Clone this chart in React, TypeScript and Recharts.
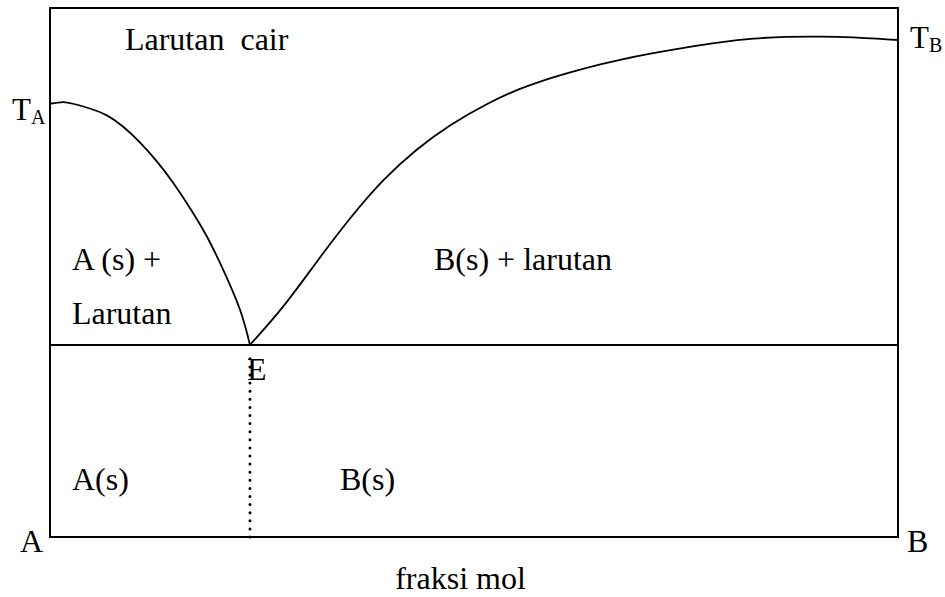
import React from 'react';
import { ComposedChart, Line, XAxis, YAxis, ReferenceLine, ReferenceArea, ReferenceDot } from 'recharts';

// Liquidus of A (mol fraction of B vs temperature, arbitrary 0-100 scale)
const liquidusA = [
  { x: 0.0, t: 81.9 },
  { x: 0.0153, t: 82.2 },
  { x: 0.027, t: 81.9 },
  { x: 0.047, t: 81.0 },
  { x: 0.067, t: 79.7 },
  { x: 0.086, t: 77.6 },
  { x: 0.106, t: 74.6 },
  { x: 0.126, t: 71.0 },
  { x: 0.145, t: 67.0 },
  { x: 0.165, t: 62.2 },
  { x: 0.185, t: 56.8 },
  { x: 0.204, t: 50.6 },
  { x: 0.224, t: 43.0 },
  { x: 0.2358, t: 36.3 },
];

// Liquidus of B
const liquidusB = [
  { x: 0.2358, t: 36.3 },
  { x: 0.2751, t: 43.6 },
  { x: 0.3145, t: 52.0 },
  { x: 0.3538, t: 60.2 },
  { x: 0.393, t: 67.4 },
  { x: 0.4324, t: 73.2 },
  { x: 0.4717, t: 77.8 },
  { x: 0.515, t: 81.8 },
  { x: 0.5542, t: 84.7 },
  { x: 0.5935, t: 86.9 },
  { x: 0.6329, t: 88.7 },
  { x: 0.6722, t: 90.2 },
  { x: 0.7114, t: 91.45 },
  { x: 0.7508, t: 92.55 },
  { x: 0.7901, t: 93.5 },
  { x: 0.8294, t: 94.2 },
  { x: 0.8687, t: 94.55 },
  { x: 0.908, t: 94.6 },
  { x: 0.9473, t: 94.45 },
  { x: 1.0, t: 93.95 },
];

const eutecticX = 0.2358;
const eutecticT = 36.3;

const regionLabels = [
  { text: 'Larutan  cair', x: 0.0884, t: 92.06, anchor: 'start' },
  { text: 'A (s) +', x: 0.0259, t: 50.5, anchor: 'start' },
  { text: 'Larutan', x: 0.0259, t: 40.3, anchor: 'start' },
  { text: 'B(s) + larutan', x: 0.4528, t: 50.5, anchor: 'start' },
  { text: 'E', x: 0.2323, t: 29.7, anchor: 'start' },
  { text: 'A(s)', x: 0.0259, t: 8.9, anchor: 'start' },
  { text: 'B(s)', x: 0.342, t: 8.9, anchor: 'start' },
  { text: 'A', x: -0.00825, t: -2.84, anchor: 'end' },
  { text: 'B', x: 1.0106, t: -2.84, anchor: 'start' },
  { text: 'fraksi mol', x: 0.4841, t: -9.83, anchor: 'middle' },
];

const tempLabels = [
  { main: 'T', sub: 'A', x: -0.0448, t: 78.83 },
  { main: 'T', sub: 'B', x: 1.0142, t: 92.44 },
];

const FONT = '"Liberation Serif", "Times New Roman", Times, serif';

export default function App() {
  return (
    <div style={{ position: 'absolute', left: 0, top: 0, background: '#fff' }}>
      <ComposedChart
        width={945}
        height={597}
        margin={{ top: 8, right: 47, bottom: 60, left: 50 }}
      >
        <XAxis type="number" dataKey="x" domain={[0, 1]} hide allowDataOverflow />
        <YAxis type="number" dataKey="t" domain={[0, 100]} hide allowDataOverflow />
        <ReferenceArea
          x1={0}
          x2={1}
          y1={0}
          y2={100}
          fill="none"
          fillOpacity={0}
          stroke="#000"
          strokeWidth={2}
          ifOverflow="visible"
        />
        <ReferenceLine y={eutecticT} stroke="#000" strokeWidth={2} />
        <ReferenceLine
          segment={[
            { x: eutecticX, y: 0 },
            { x: eutecticX, y: eutecticT - 1.2 },
          ]}
          stroke="#000"
          strokeWidth={3}
          strokeDasharray="0 8.1"
          strokeLinecap="round"
        />
        <Line
          data={liquidusA}
          dataKey="t"
          type="natural"
          stroke="#000"
          strokeWidth={1.8}
          dot={false}
          activeDot={false}
          isAnimationActive={false}
        />
        <Line
          data={liquidusB}
          dataKey="t"
          type="natural"
          stroke="#000"
          strokeWidth={1.8}
          dot={false}
          activeDot={false}
          isAnimationActive={false}
        />
        {regionLabels.map((l) => (
          <ReferenceDot
            key={l.text}
            x={l.x}
            y={l.t}
            r={0}
            ifOverflow="visible"
            shape={(p: any) => (
              <text
                x={p.cx}
                y={p.cy}
                textAnchor={l.anchor}
                fill="#000"
                style={{ whiteSpace: 'pre', fontFamily: FONT, fontSize: 32 }}
              >
                {l.text}
              </text>
            )}
          />
        ))}
        {tempLabels.map((l) => (
          <ReferenceDot
            key={l.main + l.sub}
            x={l.x}
            y={l.t}
            r={0}
            ifOverflow="visible"
            shape={(p: any) => (
              <text x={p.cx} y={p.cy} fill="#000" style={{ fontFamily: FONT, fontSize: 31 }}>
                <tspan>{l.main}</tspan>
                <tspan dy={4} style={{ fontSize: 20 }}>{l.sub}</tspan>
              </text>
            )}
          />
        ))}
      </ComposedChart>
    </div>
  );
}
